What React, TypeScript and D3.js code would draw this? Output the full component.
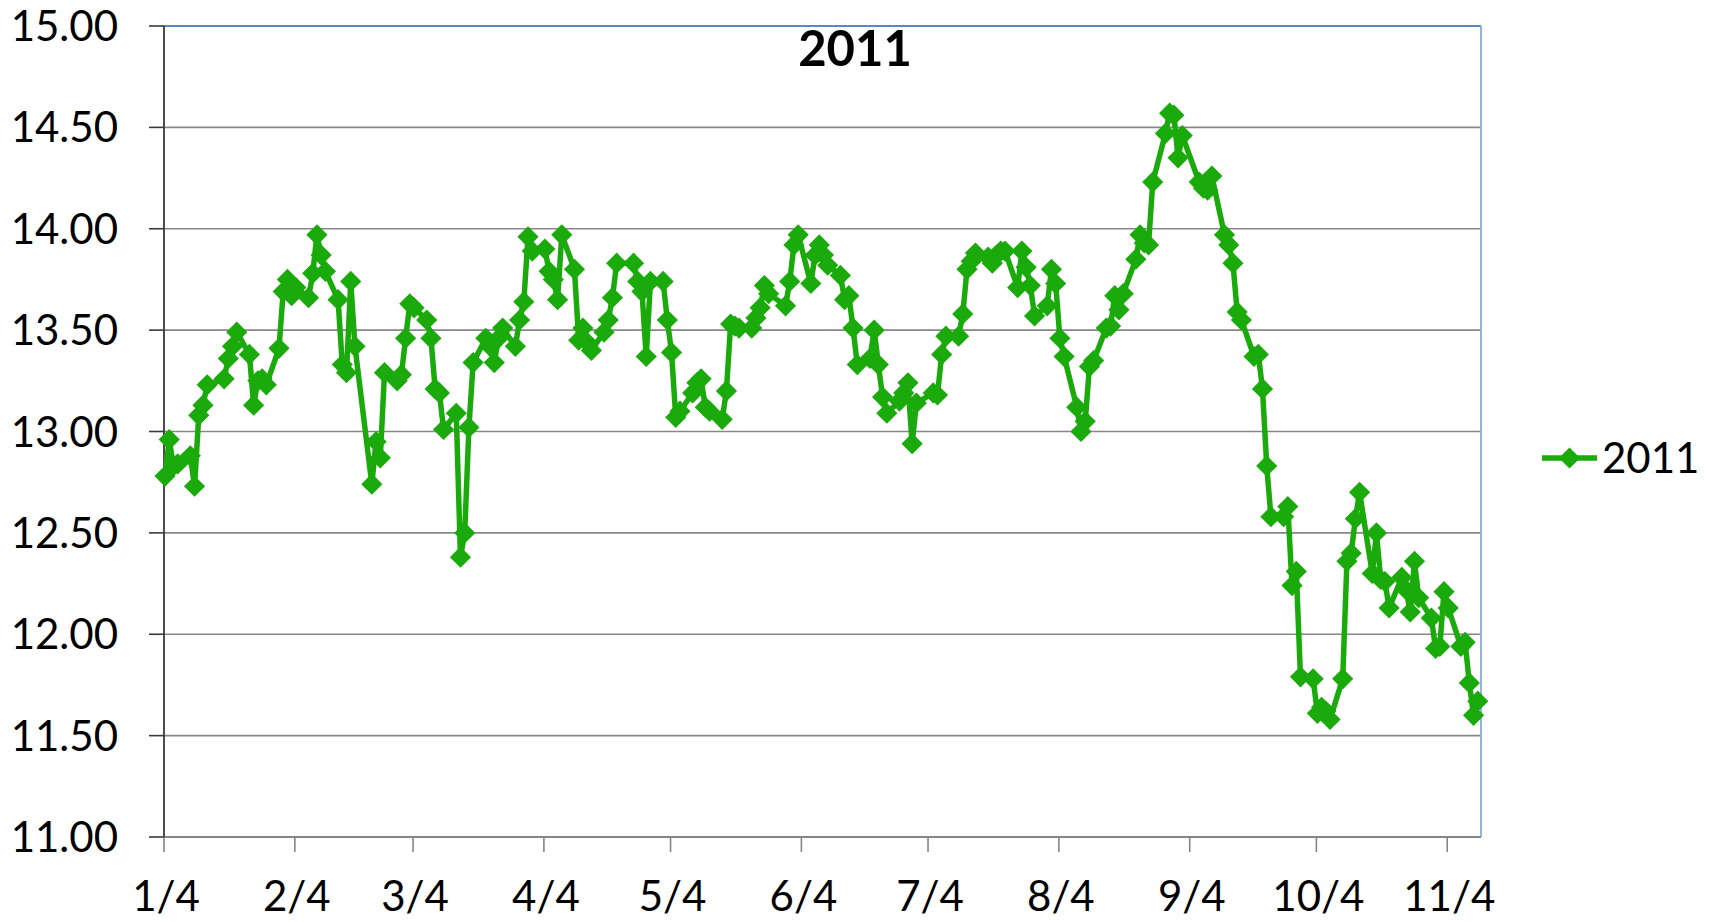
import React from "react";
import * as d3 from "d3";

const TITLE = "2011";
const SERIES_NAME = "2011";

const dates = [
  "1/4","1/5","1/6","1/7","1/10","1/11","1/12","1/13","1/14","1/18","1/19","1/20","1/21","1/24","1/25","1/26","1/27","1/28","1/31",
  "2/1","2/2","2/3","2/4","2/7","2/8","2/9","2/10","2/11","2/14","2/15","2/16","2/17","2/18","2/22","2/23","2/24","2/25","2/28",
  "3/1","3/2","3/3","3/4","3/7","3/8","3/9","3/10","3/11","3/14","3/15","3/16","3/17","3/18","3/21","3/22","3/23","3/24","3/25","3/28","3/29","3/30","3/31",
  "4/1","4/4","4/5","4/6","4/7","4/8","4/11","4/12","4/13","4/14","4/15","4/18","4/19","4/20","4/21","4/25","4/26","4/27","4/28","4/29",
  "5/2","5/3","5/4","5/5","5/6","5/9","5/10","5/11","5/12","5/13","5/16","5/17","5/18","5/19","5/20","5/23","5/24","5/25","5/26","5/27","5/31",
  "6/1","6/2","6/3","6/6","6/7","6/8","6/9","6/10","6/13","6/14","6/15","6/16","6/17","6/20","6/21","6/22","6/23","6/24","6/27","6/28","6/29","6/30",
  "7/1","7/5","7/6","7/7","7/8","7/11","7/12","7/13","7/14","7/15","7/18","7/19","7/20","7/21","7/22","7/25","7/26","7/27","7/28","7/29",
  "8/1","8/2","8/3","8/4","8/5","8/8","8/9","8/10","8/11","8/12","8/15","8/16","8/17","8/18","8/19","8/22","8/23","8/24","8/25","8/26","8/29","8/30","8/31",
  "9/1","9/2","9/6","9/7","9/8","9/9","9/12","9/13","9/14","9/15","9/16","9/19","9/20","9/21","9/22","9/23","9/26","9/27","9/28","9/29","9/30",
  "10/3","10/4","10/5","10/6","10/7","10/10","10/11","10/12","10/13","10/14","10/17","10/18","10/19","10/20","10/21","10/24","10/25","10/26","10/27","10/28","10/31",
  "11/1","11/2","11/3","11/4","11/7","11/8","11/9","11/10","11/11",
];

const values = [
  12.78,12.96,12.83,12.84,12.88,12.73,13.08,13.13,13.23,13.26,13.36,13.42,13.49,13.38,13.13,13.25,13.26,13.23,13.41,
  13.69,13.75,13.67,13.71,13.66,13.78,13.97,13.87,13.79,13.65,13.33,13.29,13.74,13.42,12.74,12.95,12.87,13.29,13.25,
  13.28,13.46,13.63,13.61,13.55,13.46,13.21,13.19,13.01,13.09,12.38,12.50,13.02,13.34,13.46,13.42,13.34,13.46,13.51,13.42,13.55,13.64,13.96,
  13.89,13.90,13.79,13.75,13.65,13.97,13.80,13.45,13.51,13.44,13.40,13.49,13.55,13.66,13.83,13.83,13.74,13.69,13.37,13.74,
  13.74,13.55,13.39,13.07,13.10,13.19,13.24,13.26,13.12,13.10,13.06,13.20,13.53,13.52,13.51,13.51,13.56,13.61,13.72,13.68,13.62,
  13.74,13.92,13.97,13.73,13.87,13.92,13.87,13.82,13.77,13.65,13.67,13.51,13.33,13.36,13.50,13.33,13.17,13.09,13.15,13.19,13.24,12.94,
  13.14,13.19,13.18,13.38,13.47,13.47,13.58,13.80,13.84,13.88,13.86,13.83,13.87,13.89,13.89,13.71,13.89,13.81,13.72,13.57,
  13.62,13.80,13.73,13.46,13.37,13.12,13.00,13.05,13.32,13.35,13.51,13.52,13.67,13.60,13.68,13.85,13.97,13.93,13.92,14.23,14.47,14.57,14.56,
  14.35,14.46,14.23,14.20,14.19,14.26,13.97,13.92,13.83,13.59,13.55,13.37,13.38,13.21,12.83,12.58,12.58,12.63,12.24,12.31,11.79,
  11.78,11.61,11.64,11.62,11.58,11.78,12.36,12.40,12.57,12.70,12.30,12.50,12.27,12.26,12.13,12.28,12.22,12.11,12.36,12.18,12.08,
  11.93,11.94,12.21,12.13,11.94,11.96,11.76,11.60,11.67,
];

const yTicks = [11, 11.5, 12, 12.5, 13, 13.5, 14, 14.5, 15];
const xTickDates = ["1/4","2/4","3/4","4/4","5/4","6/4","7/4","8/4","9/4","10/4","11/4"];
const xDomain = ["1/4", "11/12"];

const GREEN = "#1AAA0B";
const FONT = "Lato, 'Open Sans', 'DejaVu Sans', sans-serif";

export default function App() {
  const W = 1713;
  const H = 922;
  const left = 164, right = 1481, top = 26, bottom = 837;
  const parse = d3.timeParse("%Y/%m/%d");
  const pd = (s: string) => parse("2011/" + s) as Date;

  const data = dates.map((d, i) => ({ date: pd(d), value: values[i] }));

  const x = d3.scaleTime().domain([pd(xDomain[0]), pd(xDomain[1])]).range([left, right]);
  const y = d3.scaleLinear().domain([11, 15]).range([bottom, top]);

  const line = d3
    .line<{ date: Date; value: number }>()
    .x((d) => x(d.date) + 1)
    .y((d) => y(d.value));

  const side = 15;
  const diamond = d3.symbol(d3.symbolSquare, side * side)() as string;

  const legendY = 458;

  return (
    <svg
      width={W}
      height={H}
      style={{ position: "absolute", left: 0, top: 0, background: "#fff" }}
      fontFamily={FONT}
    >
      <rect x={0} y={0} width={W} height={H} fill="#fff" />
      {yTicks.slice(1, -1).map((t) => (
        <line key={t} x1={left} x2={right} y1={y(t)} y2={y(t)} stroke="#878787" strokeWidth={1.6} />
      ))}
      <line x1={left} x2={right} y1={y(15)} y2={y(15)} stroke="#5B87C7" strokeWidth={1.8} />
      <line x1={right} x2={right} y1={top} y2={bottom} stroke="#8AAAD8" strokeWidth={1.8} />
      <line x1={left} x2={right} y1={bottom} y2={bottom} stroke="#868686" strokeWidth={1.8} />
      {xTickDates.map((t) => (
        <g key={t}>
          <line x1={x(pd(t))} x2={x(pd(t))} y1={bottom} y2={bottom + 15} stroke="#868686" strokeWidth={1.6} />
          <text x={x(pd(t)) + 2} y={911} textAnchor="middle" fontSize={42} fill="#000">
            {t}
          </text>
        </g>
      ))}
      <line x1={left} x2={left} y1={top} y2={bottom} stroke="#3A3A3A" strokeWidth={1.8} />
      {yTicks.map((t) => (
        <g key={t}>
          <line x1={left - 15} x2={left} y1={y(t)} y2={y(t)} stroke="#3A3A3A" strokeWidth={1.6} />
          <text x={118} y={y(t)} dy="0.36em" textAnchor="end" fontSize={42} fill="#000">
            {t.toFixed(2)}
          </text>
        </g>
      ))}
      <path d={line(data) as string} fill="none" stroke={GREEN} strokeWidth={5.5} strokeLinejoin="round" />
      {data.map((d, i) => (
        <path
          key={i}
          d={diamond}
          transform={`translate(${x(d.date) + 1},${y(d.value)}) rotate(45)`}
          fill={GREEN}
        />
      ))}
      <text x={855} y={66} textAnchor="middle" fontSize={49} fontWeight={700} fill="#000">
        {TITLE}
      </text>
      <line x1={1542} x2={1597} y1={legendY} y2={legendY} stroke={GREEN} strokeWidth={5.5} />
      <path d={diamond} transform={`translate(1569.5,${legendY}) rotate(45)`} fill={GREEN} />
      <text x={1602} y={legendY} dy="0.36em" fontSize={42} fill="#000">
        {SERIES_NAME}
      </text>
    </svg>
  );
}
